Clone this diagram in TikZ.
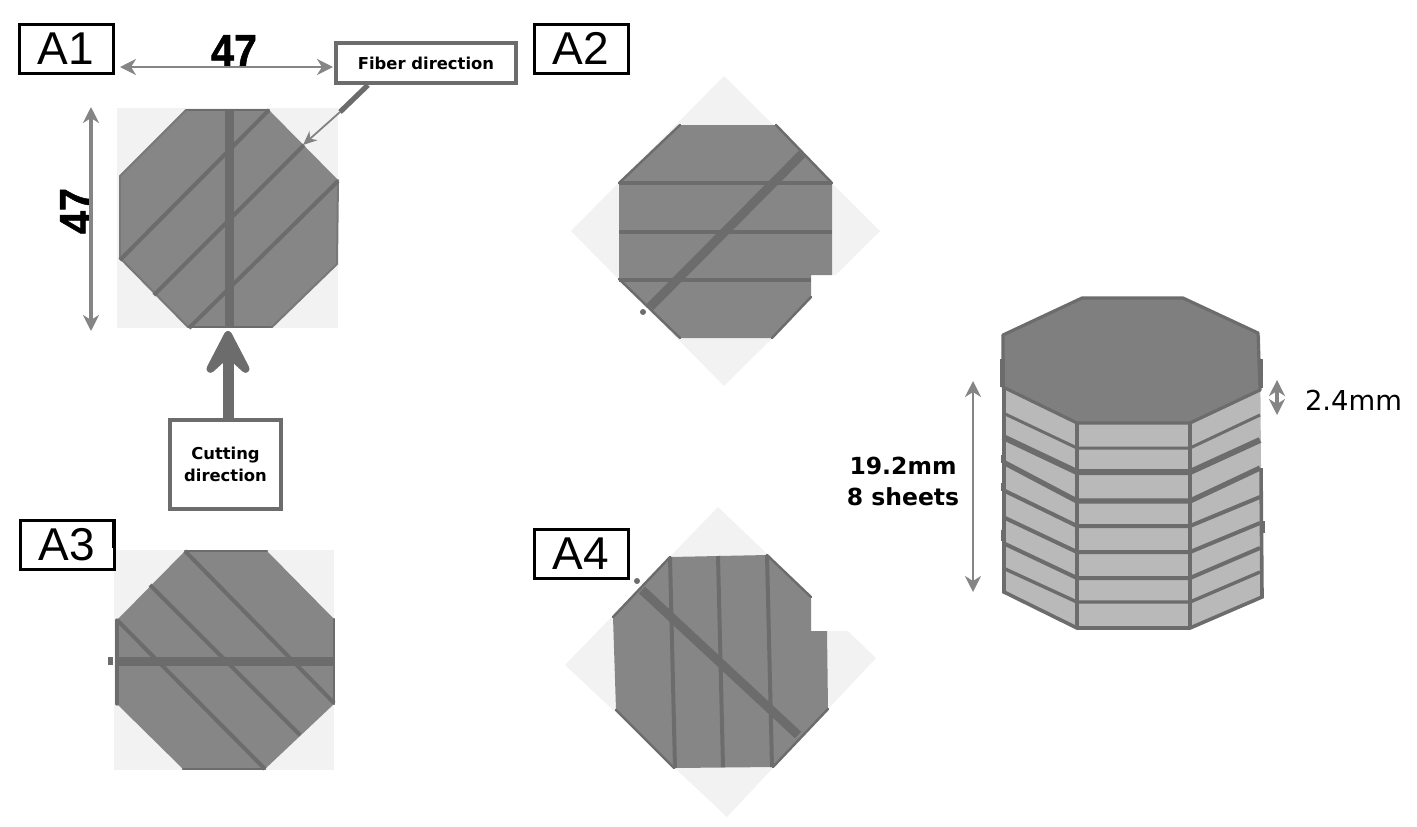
\documentclass[tikz,border=0pt]{standalone}
\usepackage{fontspec}
\setmainfont{Liberation Sans}
\newfontfamily\djv{DejaVu Sans}
\newfontfamily\heavyfont[FakeBold=1.2,FakeStretch=0.9]{Liberation Sans Bold}
\usetikzlibrary{arrows.meta}
\definecolor{sheet}{HTML}{868686}
\definecolor{edgeg}{HTML}{6C6C6C}
\definecolor{pale}{HTML}{F2F2F2}
\definecolor{dimg}{HTML}{858585}
\definecolor{sideg}{HTML}{B9B9B9}
\tikzset{
  labelbox/.style={draw=black,line width=1.5pt,fill=white,minimum width=47pt,minimum height=24.5pt,inner sep=0pt,font=\fontsize{23}{25}\selectfont},
  callout/.style={draw=edgeg,line width=2pt,fill=white,inner sep=0pt,align=center,font=\djv\bfseries\fontsize{8.2}{11}\selectfont},
  backing/.style={fill=pale,draw=none},
  octa/.style={fill=sheet,draw=none},
  rim/.style={draw=edgeg,line width=1.2pt,line cap=round},
  softrim/.style={draw=edgeg!55!sheet,line width=1pt,line cap=round},
  fibre/.style={draw=edgeg,line width=2pt},
  cutline/.style={draw=edgeg,line width=4.5pt},
  dimarrow/.style={draw=dimg,line width=1.2pt,{Stealth[length=8pt,width=8pt,inset=2.5pt]}-{Stealth[length=8pt,width=8pt,inset=2.5pt]}},
  layer/.style={draw=edgeg,line join=miter},
  dimtext/.style={inner sep=0pt,font=\heavyfont\fontsize{23}{25}\selectfont}
}
\begin{document}
\begin{tikzpicture}[x=0.5pt,y=-0.5pt]
\useasboundingbox (0,0) rectangle (1417,826);
% A1
\fill[backing] (117,108) rectangle (338,328);
\fill[octa] (186,110)--(269,110)--(338,180)--(337,264)--(272,327)--(188,327)--(120,258)--(120,176)--cycle;
\draw[rim] (186,110)--(269,110);
\draw[rim] (188,327)--(272,327);
\draw[softrim] (120,258)--(120,176)--(186,110);
\draw[softrim] (338,180)--(337,264)--(272,327);
\draw[softrim] (120,258)--(188,327);
\draw[fibre] (120,260)--(269,110);
\draw[fibre] (154,295)--(304,145);
\draw[fibre] (189,328)--(338,181);
\draw[cutline] (229,110)--(229,328);
% A2
\fill[backing] (724,76)--(880,231)--(724,386)--(571,231)--cycle;
\fill[white] (811,275) rectangle (845,330);
\fill[octa] (680,125)--(776,125)--(832,183)--(832,275)--(811,275)--(811,297)--(772,338)--(680,338)--(619,279)--(619,183)--cycle;
\draw[rim] (619,183)--(680,125);
\draw[rim] (776,125)--(832,183);
\draw[rim] (619,279)--(680,338);
\draw[rim] (811,297)--(772,338);
\draw[fibre] (619,183)--(832,183);
\draw[fibre] (619,232)--(832,232);
\draw[fibre] (619,280)--(811,280);
\draw[cutline] (802,154)--(650,307);
\fill[edgeg] (643,312) circle (3);
% A3
\fill[backing] (114,550) rectangle (334,770);
\fill[octa] (185,551)--(267,551)--(334,619)--(334,704)--(265,769)--(183,769)--(117,704)--(117,620)--cycle;
\draw[rim] (185,551)--(267,551);
\draw[rim] (183,769)--(265,769);
\draw[rim,line width=1.6pt] (117,620)--(117,704);
\draw[rim] (334,619)--(334,704);
\draw[fibre] (185,551)--(334,703);
\draw[fibre] (150,585)--(300,735);
\draw[fibre] (117,620)--(265,769);
\draw[cutline] (117,661)--(334,661);
\fill[edgeg] (108,657) rectangle (113,665);
% A4
\fill[backing] (718,507)--(876,658)--(727,817)--(565,665)--cycle;
\fill[white] (811,590) rectangle (860,631);
\fill[octa] (670,557)--(767,555)--(811,597)--(811,631)--(827,631)--(828,709)--(773,767)--(674,768)--(616,710)--(613,617)--cycle;
\draw[rim] (613,617)--(670,557);
\draw[rim] (767,555)--(811,597);
\draw[rim] (616,710)--(674,768);
\draw[rim] (828,709)--(773,767);
\draw[fibre] (670,557)--(675,768);
\draw[fibre] (718,556)--(723,767);
\draw[fibre] (767,555)--(772,767);
\draw[cutline] (642,590)--(798,735);
\fill[edgeg] (637,581) circle (3);
% stack
\fill[sideg] (1003,335)--(1260,335)--(1262,597)--(1190,628)--(1077,628)--(1005,592)--cycle;
\foreach \l/\c/\r/\w in {413/448/415/1.5,437/472/440/3,462/501/468/2.6,490/526/497/2,517/552/523/2,543/578/548/2,568/602/572/1.7}{
  \draw[layer,line width=\w pt] (1003,\l)--(1077,\c)--(1190,\c)--(1260,\r);
}
\draw[layer,line width=2.2pt] (1077,423)--(1077,628);
\draw[layer,line width=2.2pt] (1190,423)--(1190,628);
\draw[layer,line width=1.8pt] (1004,387)--(1004,592)--(1077,628)--(1190,628)--(1262,597)--(1261,468);
\draw[layer,line width=2pt] (1002.5,455)--(1002.5,463);
\draw[layer,line width=2pt] (1002.5,483)--(1002.5,491);
\draw[layer,line width=2pt] (1002.5,530)--(1002.5,541);
\draw[layer,line width=2pt] (1263,521)--(1263,533);
\draw[fill=sheet!95!black,draw=edgeg,line width=1.6pt,line join=round] (1082,298)--(1183,298)--(1258,333)--(1260,390)--(1190,423)--(1077,423)--(1003,387)--(1003,335)--cycle;
\draw[layer,line width=2.4pt] (1002.5,359)--(1002.5,387);
\draw[layer,line width=2.4pt] (1261,359)--(1261,388);
% labels
\node[labelbox] (a1) at (66,49) {A1};
\node[labelbox] (a2) at (581,48.5) {A2};
\node[labelbox] (a3) at (67,544.5) {A3};
\fill[black] (112,519) rectangle (116,548);
\node[labelbox] (a4) at (581,554) {A4};
\node[callout,minimum width=90pt,minimum height=20pt] (fiber) at (426,63) {Fiber direction};
\node[callout,minimum width=55.5pt,minimum height=44.5pt] (cut) at (225.5,464.5) {Cutting\\direction};
\node[dimtext] (wlab) at (234,51) {47};
\node[dimtext,rotate=90] (hlab) at (76,211) {47};
\node[inner sep=0pt,align=center,font=\djv\bfseries\fontsize{11.75}{15.5}\selectfont] (stacklab) at (903,481) {19.2mm\\8 sheets};
\node[inner sep=0pt,font=\djv\fontsize{13.7}{16}\selectfont] (thick) at (1353.5,400) {2.4mm};
% connectors
\coordinate (w1) at (120,67);
\coordinate (w2) at (333,67);
\coordinate (h1) at (91,107);
\coordinate (h2) at (91,331);
\coordinate (s1) at (973,381);
\coordinate (s2) at (973,592);
\coordinate (t1) at (1277,380);
\coordinate (t2) at (1277,415);
\draw[dimarrow] (w1)--(w2);
\draw[dimarrow,line width=1.6pt] (h1)--(h2);
\draw[dimarrow] (s1)--(s2);
\draw[dimarrow,line width=1.6pt] (t1)--(t2);
\coordinate (fibtip) at (303,145);
\coordinate (fibmid) at (340,112);
\coordinate (fibtop) at (368,85);
\draw[draw=edgeg!85!white,line width=0.9pt,-{Stealth[length=7pt,width=6pt]}] (fibmid)--(fibtip);
\draw[draw=edgeg,line width=2.6pt] (fibtop) -- (fibmid);
\coordinate (cuttip) at (228,331);
\draw[draw=edgeg,line width=5.5pt,-{Stealth[length=30pt,width=31pt,inset=14pt,round]}] (cut.north-|cuttip)--(cuttip);
\end{tikzpicture}
\end{document}
